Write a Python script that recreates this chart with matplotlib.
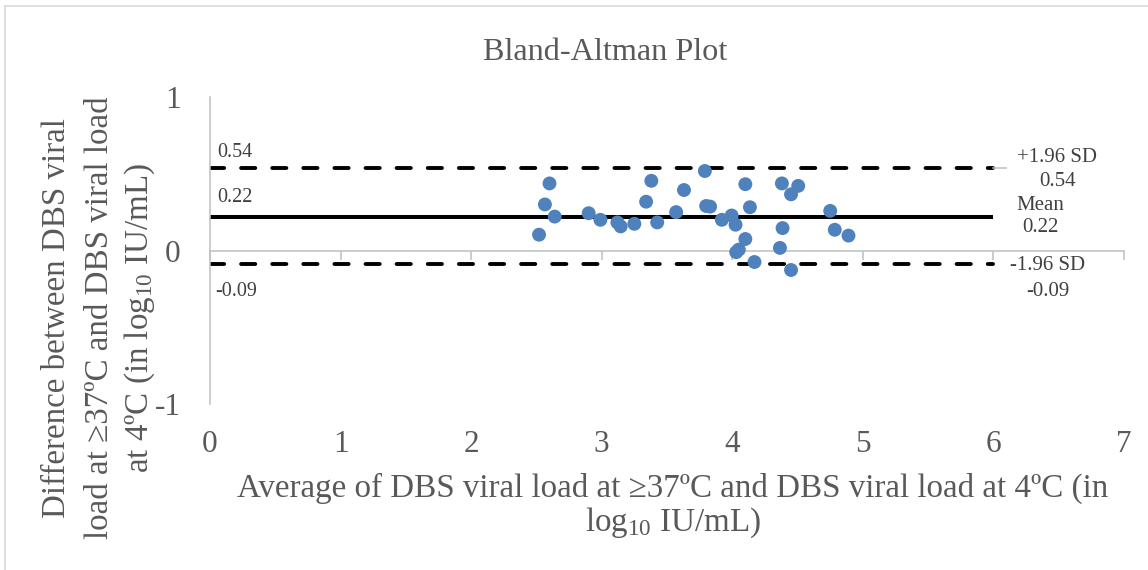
import matplotlib
matplotlib.use("Agg")
import matplotlib.pyplot as plt
from matplotlib.lines import Line2D

plt.rcParams['font.family'] = ['Liberation Serif', 'DejaVu Serif']
plt.rcParams['mathtext.fontset'] = 'custom'
plt.rcParams['mathtext.rm'] = 'Liberation Serif'
plt.rcParams['mathtext.it'] = 'Liberation Serif:italic'

# ---- data ----
avg_x = [2.52, 2.565, 2.60, 2.64, 2.90, 2.99, 3.12, 3.145, 3.25, 3.34,
         3.38, 3.425, 3.57, 3.63, 3.79, 3.80, 3.83, 3.92, 3.995, 4.025,
         4.03, 4.05, 4.10, 4.10, 4.135, 4.17, 4.38, 4.385, 4.365, 4.45,
         4.505, 4.45, 4.75, 4.785, 4.89]
diff_y = [0.103, 0.30, 0.437, 0.221, 0.243, 0.20, 0.183, 0.157, 0.174, 0.318,
          0.454, 0.183, 0.25, 0.394, 0.518, 0.29, 0.286, 0.20, 0.228, 0.168,
          -0.011, 0.006, 0.075, 0.432, 0.282, -0.075, 0.437, 0.146, 0.017, 0.366,
          0.421, -0.127, 0.258, 0.135, 0.097]
mean_diff = 0.22
upper_loa = 0.54
lower_loa = -0.09
line_end = 6
x_ticks = [0, 1, 2, 3, 4, 5, 6, 7]
y_ticks = [-1, 0, 1]

W, H = 1148, 570
fig = plt.figure(figsize=(W / 100, H / 100), dpi=100)
fig.patch.set_facecolor('white')

def fx(px):
    return px / W

def fy(py):
    return 1 - py / H

ax = fig.add_axes([fx(210), fy(404), (1124 - 210) / W, (404 - 97) / H])
ax.set_xlim(0, 7)
ax.set_ylim(-1, 1)

gray_axis = '#BFBFBF'
tick_col = '#595959'
ann_col = '#404040'

for s in ['top', 'right']:
    ax.spines[s].set_visible(False)
ax.spines['left'].set_color(gray_axis)
ax.spines['left'].set_linewidth(1.1)
ax.spines['bottom'].set_position(('data', 0))
ax.spines['bottom'].set_color(gray_axis)
ax.spines['bottom'].set_linewidth(1.1)
ax.set_xticks(x_ticks)
ax.tick_params(axis='x', direction='out', length=6.5, width=1.1, color=gray_axis,
               labelbottom=False)
ax.set_yticks(y_ticks)
ax.set_yticklabels([str(v) for v in y_ticks])
ax.tick_params(axis='y', length=0, pad=21, labelsize=22.5, labelcolor=tick_col)

sec = ax.secondary_xaxis('bottom')
sec.set_xticks(x_ticks)
sec.set_xticklabels([str(v) for v in x_ticks])
sec.spines['bottom'].set_visible(False)
sec.tick_params(length=0, pad=18.5, labelsize=22.5, labelcolor=tick_col)

# reference lines
lw_d = 2.8
ax.plot([0, line_end], [upper_loa, upper_loa], color='black', lw=lw_d,
        linestyle=(0, (3.64, 4.36)), dash_capstyle='round', zorder=2)
ax.plot([0, line_end], [lower_loa, lower_loa], color='black', lw=lw_d,
        linestyle=(0, (3.64, 4.36)), dash_capstyle='round', zorder=2)
ax.plot([0, line_end], [mean_diff, mean_diff], color='black', lw=2.9,
        solid_capstyle='butt', zorder=2)
ax.plot([line_end, line_end + 0.1], [upper_loa, upper_loa], color=gray_axis,
        lw=1.1, clip_on=False, zorder=2)

ax.scatter(avg_x, diff_y, s=100, color='#4F81BD', edgecolors='none', zorder=3)

# left value labels
fs_ann = 14.5
fig.text(fx(217), fy(153), f"{upper_loa:.2f}", fontsize=fs_ann, color=ann_col,
         ha='left', va='center')
fig.text(fx(217), fy(197), f"{mean_diff:.2f}", fontsize=fs_ann, color=ann_col,
         ha='left', va='center')
fig.text(fx(215), fy(292), f"{lower_loa:.2f}", fontsize=fs_ann, color=ann_col,
         ha='left', va='center')

# right labels
fig.text(fx(1057), fy(157), "+1.96 SD", fontsize=15, color=ann_col, ha='center', va='center')
fig.text(fx(1058), fy(182), f"{upper_loa:.2f}", fontsize=15, color=ann_col, ha='center', va='center')
fig.text(fx(1040), fy(205), "Mean", fontsize=15, color=ann_col, ha='center', va='center')
fig.text(fx(1040), fy(228), f"{mean_diff:.2f}", fontsize=15, color=ann_col, ha='center', va='center')
fig.text(fx(1048), fy(265), "-1.96 SD", fontsize=15, color=ann_col, ha='center', va='center')
fig.text(fx(1048), fy(292), f"{lower_loa:.2f}", fontsize=15, color=ann_col, ha='center', va='center')

# title
fig.text(fx(605), fy(53), "Bland-Altman Plot", fontsize=23.2, color=tick_col,
         ha='center', va='center')

# x label (two lines)
fig.text(fx(673), fy(497), "Average of DBS viral load at \u226537\u00baC and DBS viral load at 4\u00baC (in",
         fontsize=23.8, color=tick_col, ha='center', va='baseline')
fig.text(fx(673), fy(531), r"log$_{\mathrm{10}}$ IU/mL)",
         fontsize=23.8, color=tick_col, ha='center', va='baseline')

# y label (three lines)
ylines = ["Difference between DBS viral",
          "load at \u226537\u00baC and DBS viral load",
          "at 4\u00baC (in log" + r"$_{\mathrm{10}}$" + " IU/mL)"]
ycent = [57, 100, 140]
for t, xc in zip(ylines, ycent):
    fig.text(fx(xc), fy(318), t, fontsize=23.8, color=tick_col, rotation=90,
             ha='center', va='center')

# chart frame (top and left only, as cropped)
fig.add_artist(Line2D([fx(5), 1], [fy(6), fy(6)], color='#D9D9D9', lw=1.2))
fig.add_artist(Line2D([fx(5), fx(5)], [fy(6), 0], color='#D9D9D9', lw=1.2))

fig.savefig("out.png", dpi=100, facecolor='white')
